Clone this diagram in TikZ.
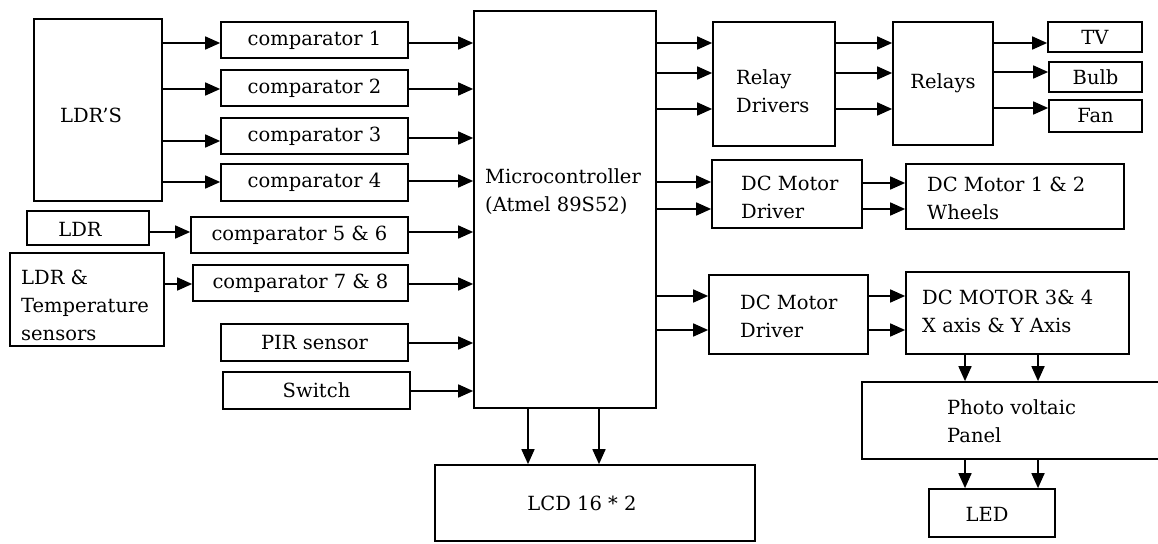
\documentclass[tikz,border=0pt]{standalone}
\usepackage{fontspec}
\setmainfont{DejaVu Serif}
\usetikzlibrary{arrows.meta,fit}
\tikzset{
  box/.style={draw=black,line width=1.7pt,inner sep=0pt,rectangle},
  txt/.style={inner sep=0pt,font=\fontsize{19.5}{28}\selectfont},
  ltxt/.style={txt,anchor=west,align=left},
  arr/.style={line width=1.7pt,-{Triangle[length=15pt,width=13pt]}}
}
\begin{document}
\begin{tikzpicture}[x=1pt,y=-1pt]
\clip (0,0) rectangle (1158,543);
\fill[white] (0,0) rectangle (1158,543);
% boxes
\node[box,fit={(34,19) (162,201)}] (ldrs) {};
\node[box,fit={(221,22) (408,58)}] (c1) {};
\node[box,fit={(221,70) (408,106)}] (c2) {};
\node[box,fit={(221,118) (408,154)}] (c3) {};
\node[box,fit={(221,164) (408,201)}] (c4) {};
\node[box,fit={(27,211) (149,245)}] (ldr) {};
\node[box,fit={(191,217) (408,253)}] (c56) {};
\node[box,fit={(10,253) (164,346)}] (ldrt) {};
\node[box,fit={(193,265) (408,301)}] (c78) {};
\node[box,fit={(221,324) (408,361)}] (pir) {};
\node[box,fit={(223,372) (410,409)}] (sw) {};
\node[box,fit={(474,11) (656,408)}] (mcu) {};
\node[box,fit={(435,465) (755,541)}] (lcd) {};
\node[box,fit={(713,22) (835,146)}] (rd) {};
\node[box,fit={(712,160) (862,228)}] (dcmd1) {};
\node[box,fit={(893,22) (993,145)}] (relays) {};
\node[box,fit={(1048,22) (1142,52)}] (tv) {};
\node[box,fit={(1049,62) (1142,92)}] (bulb) {};
\node[box,fit={(1049,100) (1142,132)}] (fan) {};
\node[box,fit={(906,164) (1124,229)}] (dcm12) {};
\node[box,fit={(709,275) (868,354)}] (dcmd2) {};
\node[box,fit={(906,272) (1129,354)}] (dcm34) {};
\node[box,fit={(862,382) (1175,459)}] (pv) {};
\node[box,fit={(929,489) (1055,537)}] (led) {};
% texts
\node[txt] (ldrs-t) at (91,115) {LDR{\char"27}S};
\node[txt] (c1-t) at (c1.center) {comparator 1};
\node[txt] (c2-t) at (c2.center) {comparator 2};
\node[txt] (c3-t) at (c3.center) {comparator 3};
\node[txt] (c4-t) at (c4.center) {comparator 4};
\node[txt] (ldr-t) at (80,229) {LDR};
\node[txt] (c56-t) at (c56.center) {comparator 5 \& 6};
\node[txt] (c78-t) at (c78.center) {comparator 7 \& 8};
\node[ltxt] (ldrt-t) at (21,305) {LDR \&\\Temperature\\sensors};
\node[txt] (pir-t) at (pir.center) {PIR sensor};
\node[txt] (sw-t) at (sw.center) {Switch};
\node[ltxt] (mcu-t) at (485,192) {Microcontroller\\(Atmel 89S52)};
\node[txt] (lcd-t) at (582,503) {LCD 16 * 2};
\node[ltxt] (rd-t) at (736,91.5) {Relay\\Drivers};
\node[txt] (relays-t) at (relays.center) {Relays};
\node[txt] (tv-t) at (tv.center) {TV};
\node[txt] (bulb-t) at (bulb.center) {Bulb};
\node[txt] (fan-t) at (fan.center) {Fan};
\node[ltxt] (dcmd1-t) at (741,197) {DC Motor\\Driver};
\node[ltxt] (dcm12-t) at (927,198) {DC Motor 1 \& 2\\Wheels};
\node[ltxt] (dcmd2-t) at (740,316) {DC Motor\\Driver};
\node[ltxt] (dcm34-t) at (922,311.5) {DC MOTOR 3\& 4\\X axis \& Y Axis};
\node[ltxt] (pv-t) at (947,421.5) {Photo voltaic\\Panel};
\node[txt] (led-t) at (987,514) {LED};
% connectors
\draw[arr] (ldrs.east |- 0,43) -- (c1.west |- 0,43);
\draw[arr] (ldrs.east |- 0,89) -- (c2.west |- 0,89);
\draw[arr] (ldrs.east |- 0,141) -- (c3.west |- 0,141);
\draw[arr] (ldrs.east |- 0,182) -- (c4.west |- 0,182);
\draw[arr] (c1.east |- 0,43) -- (mcu.west |- 0,43);
\draw[arr] (c2.east |- 0,89) -- (mcu.west |- 0,89);
\draw[arr] (c3.east |- 0,138) -- (mcu.west |- 0,138);
\draw[arr] (c4.east |- 0,181) -- (mcu.west |- 0,181);
\draw[arr] (ldr.east |- 0,232) -- (c56.west |- 0,232);
\draw[arr] (c56.east |- 0,232) -- (mcu.west |- 0,232);
\draw[arr] (ldrt.east |- 0,284) -- (c78.west |- 0,284);
\draw[arr] (c78.east |- 0,284) -- (mcu.west |- 0,284);
\draw[arr] (pir.east |- 0,343) -- (mcu.west |- 0,343);
\draw[arr] (sw.east |- 0,391) -- (mcu.west |- 0,391);
\draw[arr] (mcu.east |- 0,43) -- (rd.west |- 0,43);
\draw[arr] (mcu.east |- 0,73) -- (rd.west |- 0,73);
\draw[arr] (mcu.east |- 0,109) -- (rd.west |- 0,109);
\draw[arr] (rd.east |- 0,43) -- (relays.west |- 0,43);
\draw[arr] (rd.east |- 0,73) -- (relays.west |- 0,73);
\draw[arr] (rd.east |- 0,109) -- (relays.west |- 0,109);
\draw[arr] (relays.east |- 0,43) -- (tv.west |- 0,43);
\draw[arr] (relays.east |- 0,72) -- (bulb.west |- 0,72);
\draw[arr] (relays.east |- 0,108) -- (fan.west |- 0,108);
\draw[arr] (mcu.east |- 0,182) -- (dcmd1.west |- 0,182);
\draw[arr] (mcu.east |- 0,209) -- (dcmd1.west |- 0,209);
\draw[arr] (dcmd1.east |- 0,183) -- (dcm12.west |- 0,183);
\draw[arr] (dcmd1.east |- 0,209) -- (dcm12.west |- 0,209);
\draw[arr] (mcu.east |- 0,296) -- (dcmd2.west |- 0,296);
\draw[arr] (mcu.east |- 0,330) -- (dcmd2.west |- 0,330);
\draw[arr] (dcmd2.east |- 0,296) -- (dcm34.west |- 0,296);
\draw[arr] (dcmd2.east |- 0,330) -- (dcm34.west |- 0,330);
\draw[arr] (dcm34.south -| 965,0) -- (pv.north -| 965,0);
\draw[arr] (dcm34.south -| 1038,0) -- (pv.north -| 1038,0);
\draw[arr] (pv.south -| 965,0) -- (led.north -| 965,0);
\draw[arr] (pv.south -| 1038,0) -- (led.north -| 1038,0);
\draw[arr] (mcu.south -| 528,0) -- (lcd.north -| 528,0);
\draw[arr] (mcu.south -| 599,0) -- (lcd.north -| 599,0);
\end{tikzpicture}
\end{document}
